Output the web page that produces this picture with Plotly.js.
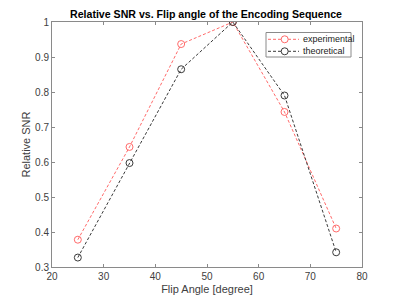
<!DOCTYPE html>
<html><head><meta charset="utf-8">
<script src="https://cdn.plot.ly/plotly-3.0.1.min.js"></script>
<style>html,body{margin:0;padding:0;background:#fff}</style>
</head><body>
<div id="chart" style="width:400px;height:300px"></div>
<script>
const flipAngles = [25, 35, 45, 55, 65, 75];
const experimental = [0.378, 0.643, 0.937, 1.0, 0.743, 0.41];
const theoretical = [0.327, 0.597, 0.865, 1.0, 0.79, 0.342];
const seriesNames = ['experimental', 'theoretical'];
const seriesColors = ['#ff6a6a', '#3a3a3a'];

const traces = [experimental, theoretical].map((vals, i) => ({
  x: flipAngles, y: vals, name: seriesNames[i], mode: 'lines+markers',
  line: {color: seriesColors[i], dash: '3px,2px', width: 1},
  marker: {symbol: 'circle-open', size: 7, color: seriesColors[i], line: {width: 1}}
}));

// plot area in pixels: x 52..362, y 22..267
const PL = 52, PW = 310, PB = 267, PH = 245;
const px = v => (v - PL) / PW;
const py = v => (PB - v) / PH;

const shapes = [{type: 'rect', xref: 'paper', yref: 'paper', x0: px(266), x1: px(351), y0: py(57), y1: py(32.5),
  line: {color: '#8a8a8a', width: 1}, fillcolor: '#fff', layer: 'above'}];
const annotations = [];
const rows = [39.3, 51.3];
seriesNames.forEach((n, i) => {
  const yy = py(rows[i]);
  shapes.push({type: 'line', xref: 'paper', yref: 'paper', x0: px(268), x1: px(299), y0: yy, y1: yy,
    line: {color: seriesColors[i], width: 1, dash: '3px,2px'}, layer: 'above'});
  shapes.push({type: 'circle', xref: 'paper', yref: 'paper', x0: px(284.7 - 3.5), x1: px(284.7 + 3.5),
    y0: py(rows[i] + 3.5), y1: py(rows[i] - 3.5), line: {color: seriesColors[i], width: 1}, fillcolor: '#fff', layer: 'above'});
  annotations.push({xref: 'paper', yref: 'paper', x: px(300.5), y: yy, xanchor: 'left', yanchor: 'middle',
    text: n, showarrow: false, font: {family: 'Liberation Sans, Arial', size: 9, color: '#222'}});
});

const axisCommon = {
  showgrid: false, zeroline: false, showline: true, linecolor: '#8a8a8a', linewidth: 1,
  mirror: 'ticks', ticks: 'inside', ticklen: 3, tickcolor: '#8a8a8a',
  tickfont: {family: 'Liberation Sans, Arial', size: 10, color: '#404040'}
};

const layout = {
  width: 400, height: 300,
  margin: {l: 52, r: 38, t: 22, b: 33},
  paper_bgcolor: '#fff', plot_bgcolor: '#fff',
  showlegend: false,
  shapes: shapes, annotations: annotations,
  title: {text: '<b>Relative SNR vs. Flip angle of the Encoding Sequence</b>',
          font: {family: 'Liberation Sans, Arial', size: 10.6, color: '#000'},
          x: 0.515, xanchor: 'center', y: 0.953, yanchor: 'middle'},
  xaxis: Object.assign({}, axisCommon, {range: [20, 80], tickvals: [20,30,40,50,60,70,80],
          title: {text: 'Flip Angle [degree]', font: {family: 'Liberation Sans, Arial', size: 11, color: '#404040'}, standoff: 4}}),
  yaxis: Object.assign({}, axisCommon, {range: [0.3, 1], tickvals: [0.3,0.4,0.5,0.6,0.7,0.8,0.9,1],
          ticktext: ['0.3','0.4','0.5','0.6','0.7','0.8','0.9','1'],
          title: {text: 'Relative SNR', font: {family: 'Liberation Sans, Arial', size: 11, color: '#404040'}, standoff: 2}})
};

Plotly.newPlot('chart', traces, layout, {displayModeBar: false, staticPlot: true});
</script>
</body></html>
